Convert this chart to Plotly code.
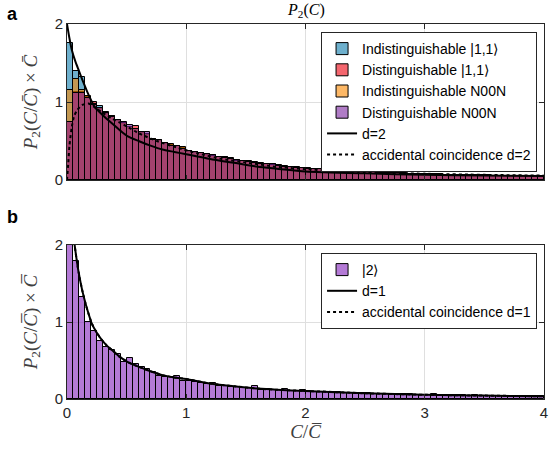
import plotly.graph_objects as go

# ---------------- data ----------------
bin_width = 0.05
n_bins = 80
bin_centers = [round(0.025 + bin_width * i, 4) for i in range(n_bins)]

indist_11 = [1.76, 1.40, 1.32, 1.06, 0.97, 0.95, 0.86, 0.81, 0.76, 0.72, 0.67, 0.65, 0.60, 0.58, 0.52, 0.50, 0.47, 0.45, 0.43, 0.41, 0.37, 0.36,
             0.35, 0.32, 0.32, 0.29, 0.29, 0.27, 0.26, 0.24, 0.23, 0.23, 0.21, 0.20, 0.20, 0.18, 0.17, 0.17, 0.16, 0.15,
             0.145, 0.14, 0.14, 0.13, 0.125, 0.12, 0.12, 0.11, 0.11, 0.104, 0.10, 0.10, 0.094, 0.09, 0.09, 0.085, 0.083, 0.08, 0.08, 0.076,
             0.074, 0.072, 0.071, 0.068, 0.066, 0.065, 0.063, 0.061, 0.06, 0.058, 0.058, 0.056, 0.055, 0.054, 0.053, 0.051, 0.05, 0.049, 0.048, 0.047]
dist_11 = [0.75, 1.13, 1.13, 1.06, 1.00, 0.91, 0.85, 0.82, 0.76, 0.73, 0.68, 0.69, 0.60, 0.58, 0.53, 0.50, 0.46, 0.45, 0.43, 0.41, 0.36, 0.35,
           0.35, 0.32, 0.31, 0.29, 0.29, 0.27, 0.25, 0.24, 0.24, 0.22, 0.21, 0.21, 0.19, 0.18, 0.18, 0.165, 0.16, 0.155,
           0.145, 0.145, 0.135, 0.13, 0.125, 0.125, 0.115, 0.11, 0.11, 0.104, 0.10, 0.097, 0.094, 0.092, 0.088, 0.085, 0.085, 0.08, 0.078, 0.076,
           0.074, 0.073, 0.07, 0.068, 0.067, 0.064, 0.063, 0.062, 0.06, 0.058, 0.057, 0.057, 0.055, 0.054, 0.052, 0.051, 0.051, 0.049, 0.048, 0.048]
indist_noon = [1.16, 1.30, 1.15, 1.08, 0.97, 0.92, 0.87, 0.82, 0.77, 0.73, 0.68, 0.66, 0.62, 0.59, 0.52, 0.51, 0.47, 0.46, 0.44, 0.42, 0.37, 0.355,
               0.34, 0.33, 0.31, 0.30, 0.28, 0.28, 0.25, 0.25, 0.23, 0.22, 0.22, 0.20, 0.19, 0.19, 0.17, 0.165, 0.17, 0.15,
               0.15, 0.14, 0.135, 0.13, 0.13, 0.12, 0.115, 0.11, 0.108, 0.105, 0.10, 0.097, 0.095, 0.091, 0.088, 0.087, 0.083, 0.08, 0.078, 0.077,
               0.075, 0.072, 0.07, 0.069, 0.066, 0.064, 0.064, 0.061, 0.06, 0.059, 0.057, 0.056, 0.056, 0.054, 0.052, 0.052, 0.05, 0.049, 0.049, 0.047]
dist_noon = [0.74, 1.12, 1.12, 1.05, 0.96, 0.92, 0.86, 0.81, 0.77, 0.74, 0.71, 0.65, 0.61, 0.62, 0.51, 0.51, 0.47, 0.44, 0.44, 0.40, 0.37, 0.355,
             0.34, 0.33, 0.32, 0.29, 0.28, 0.27, 0.26, 0.24, 0.23, 0.22, 0.21, 0.20, 0.20, 0.18, 0.17, 0.17, 0.16, 0.15,
             0.145, 0.14, 0.135, 0.135, 0.125, 0.12, 0.115, 0.113, 0.108, 0.104, 0.102, 0.097, 0.094, 0.091, 0.09, 0.085, 0.083, 0.082, 0.078, 0.076,
             0.074, 0.072, 0.07, 0.068, 0.066, 0.065, 0.063, 0.061, 0.061, 0.058, 0.057, 0.056, 0.055, 0.055, 0.052, 0.051, 0.05, 0.05, 0.048, 0.047]

d2_x = [0.0, 0.02, 0.04, 0.07, 0.10, 0.135, 0.17, 0.20, 0.235, 0.30, 0.374, 0.45, 0.51, 0.60, 0.70, 0.80, 0.90, 1.0, 1.2, 1.4, 1.6, 1.76, 2.0, 2.5, 3.0, 3.5, 4.0]
d2_y = [2.0, 1.82, 1.67, 1.52, 1.40, 1.26, 1.13, 1.03, 0.93, 0.83, 0.73, 0.63, 0.56, 0.50, 0.44, 0.39, 0.36, 0.33, 0.27, 0.22, 0.17, 0.145, 0.11, 0.085, 0.066, 0.057, 0.05]
acc2_x = [0.0, 0.01, 0.02, 0.04, 0.06, 0.083, 0.125, 0.18, 0.235, 0.30, 0.374, 0.45, 0.51, 0.60, 0.77, 0.98, 1.1, 1.3, 1.52, 1.75, 2.02, 2.5, 3.0, 3.5, 4.0]
acc2_y = [0.0, 0.2, 0.43, 0.68, 0.82, 0.89, 0.96, 0.98, 0.93, 0.86, 0.79, 0.73, 0.68, 0.60, 0.49, 0.39, 0.34, 0.27, 0.22, 0.17, 0.137, 0.10, 0.08, 0.066, 0.056]

state_2 = [2.30, 1.79, 1.32, 1.00, 0.88, 0.75, 0.68, 0.64, 0.59, 0.48, 0.53, 0.46, 0.42, 0.39, 0.355, 0.30, 0.29, 0.29, 0.30, 0.24,
           0.24, 0.22, 0.21, 0.19, 0.21, 0.17, 0.165, 0.16, 0.15, 0.145, 0.14, 0.17, 0.12, 0.125, 0.115, 0.12, 0.13, 0.11, 0.105, 0.12,
           0.10, 0.095, 0.093, 0.09, 0.088, 0.085, 0.082, 0.08, 0.078, 0.075, 0.073, 0.07, 0.068, 0.066, 0.064, 0.062, 0.06, 0.062, 0.058, 0.056,
           0.055, 0.06, 0.053, 0.05, 0.049, 0.048, 0.046, 0.045, 0.05, 0.043, 0.042, 0.04, 0.04, 0.039, 0.038, 0.037, 0.036, 0.035, 0.035, 0.034]
d1_x = [0.04, 0.064, 0.08, 0.097, 0.125, 0.152, 0.18, 0.208, 0.25, 0.29, 0.33, 0.374, 0.44, 0.51, 0.60, 0.70, 0.80, 0.90, 1.0, 1.2, 1.4, 1.6, 1.76, 2.0, 2.5, 3.0, 3.5, 4.0]
d1_y = [2.35, 2.0, 1.82, 1.65, 1.43, 1.26, 1.11, 0.98, 0.86, 0.77, 0.70, 0.64, 0.55, 0.48, 0.42, 0.36, 0.31, 0.28, 0.26, 0.20, 0.165, 0.135, 0.12, 0.105, 0.075, 0.055, 0.044, 0.035]
acc1_x = [0.04, 0.064, 0.08, 0.097, 0.125, 0.152, 0.18, 0.208, 0.25, 0.29, 0.33, 0.374, 0.44, 0.51, 0.60, 0.70, 0.80, 0.90, 1.0, 1.2, 1.4, 1.6, 1.76, 2.0, 2.5, 3.0, 3.5, 4.0]
acc1_y = [2.35, 2.0, 1.82, 1.65, 1.43, 1.26, 1.11, 0.98, 0.86, 0.77, 0.70, 0.64, 0.55, 0.48, 0.42, 0.36, 0.31, 0.28, 0.26, 0.20, 0.165, 0.135, 0.12, 0.105, 0.075, 0.055, 0.044, 0.035]

x_ticks = [0, 1, 2, 3, 4]
y_ticks = [0, 1, 2]

# ---------------- figure ----------------
W, H = 552, 457
ML, MR, MT, MB = 67, 4, 24, 58
axis_col = "#262626"
sans = "Liberation Sans, Arial, sans-serif"
serif = "Liberation Serif, Times New Roman, serif"

fig = go.Figure()

hist_top = [
    ("Indistinguishable |1,1⟩", indist_11, "rgba(13,123,172,0.6)"),
    ("Distinguishable |1,1⟩", dist_11, "rgba(237,0,13,0.6)"),
    ("Indistinguishable N00N", indist_noon, "rgba(252,137,0,0.6)"),
    ("Distinguishable N00N", dist_noon, "rgba(123,37,160,0.6)"),
]
for name, vals, col in hist_top:
    fig.add_trace(go.Bar(x=bin_centers, y=vals, width=bin_width, name=name,
                         marker=dict(color=col, line=dict(color="black", width=1)),
                         xaxis="x", yaxis="y", legend="legend"))
fig.add_trace(go.Scatter(x=d2_x, y=d2_y, mode="lines", name="d=2",
                         line=dict(color="black", width=2, shape="spline", smoothing=0.6),
                         xaxis="x", yaxis="y", legend="legend"))
fig.add_trace(go.Scatter(x=acc2_x, y=acc2_y, mode="lines", name="accidental coincidence d=2",
                         line=dict(color="black", width=2, dash="dot", shape="spline", smoothing=0.6),
                         xaxis="x", yaxis="y", legend="legend"))

fig.add_trace(go.Bar(x=bin_centers, y=state_2, width=bin_width, name="|2⟩",
                     marker=dict(color="rgba(130,33,187,0.6)", line=dict(color="black", width=1)),
                     xaxis="x2", yaxis="y2", legend="legend2"))
fig.add_trace(go.Scatter(x=d1_x, y=d1_y, mode="lines", name="d=1",
                         line=dict(color="black", width=2, shape="spline", smoothing=0.6),
                         xaxis="x2", yaxis="y2", legend="legend2"))
fig.add_trace(go.Scatter(x=acc1_x, y=acc1_y, mode="lines", name="accidental coincidence d=1",
                         line=dict(color="black", width=2, dash="dot", shape="spline", smoothing=0.6),
                         xaxis="x2", yaxis="y2", legend="legend2"))

plot_h = H - MT - MB
top_dom = [(399 - 180) / plot_h, 1.0]
bot_dom = [0.0, (399 - 245) / plot_h]

common_x = dict(range=[0, 4], tickvals=x_ticks, showgrid=True, gridcolor="#dfdfdf", gridwidth=1,
                zeroline=False, showline=True, linecolor=axis_col, linewidth=1, mirror="ticks",
                ticks="inside", ticklen=5, tickcolor=axis_col, ticklabeloverflow="allow",
                tickfont=dict(family=sans, size=15, color=axis_col))
common_y = dict(range=[0, 2], tickvals=y_ticks, showgrid=True, gridcolor="#dfdfdf", gridwidth=1,
                zeroline=False, showline=True, linecolor=axis_col, linewidth=1, mirror="ticks",
                ticks="inside", ticklen=5, tickcolor=axis_col,
                tickfont=dict(family=sans, size=15, color=axis_col))

ylab_top = "<i>P</i><sub>2</sub>(<i>C</i>/<i>C\u0304</i>) × <i>C\u0304</i>"
ylab_bot = "<i>P</i><sub>2</sub>(<i>C</i>/<i>C\u0305</i>) × <i>C\u0305</i>"

leg_common = dict(xanchor="right", yanchor="top", bgcolor="white", bordercolor="#262626", borderwidth=1,
                  font=dict(family=sans, size=14, color="black"), tracegroupgap=0, itemwidth=30)

fig.update_layout(
    width=W, height=H,
    margin=dict(l=ML, r=MR, t=MT, b=MB, pad=0),
    paper_bgcolor="white", plot_bgcolor="white",
    barmode="overlay", bargap=0,
    xaxis=dict(domain=[0, 1], anchor="y", showticklabels=False, **common_x),
    yaxis=dict(domain=top_dom, anchor="x",
               title=dict(text=ylab_top, font=dict(family=serif, size=19, color="#404040"), standoff=12),
               **common_y),
    xaxis2=dict(domain=[0, 1], anchor="y2",
                title=dict(text="<i>C</i>/<i>C\u0305</i>", font=dict(family=serif, size=19, color="#404040"), standoff=4),
                **common_x),
    yaxis2=dict(domain=bot_dom, anchor="x2",
                title=dict(text=ylab_bot, font=dict(family=serif, size=19, color="#404040"), standoff=12),
                **common_y),
    legend=dict(x=(541 - ML) / (W - ML - MR), y=(399 - 32) / plot_h, **leg_common),
    legend2=dict(x=(541 - ML) / (W - ML - MR), y=(399 - 253) / plot_h, **leg_common),
    showlegend=True,
)

fig.add_annotation(text="<i>P</i><sub>2</sub>(<i>C</i>)", xref="paper", yref="paper",
                   x=0.5, y=1.0, yshift=2, xanchor="center", yanchor="bottom", showarrow=False,
                   font=dict(family=serif, size=16, color="black"))
fig.add_annotation(text="<b>a</b>", xref="paper", yref="paper", x=-ML / (W - ML - MR) + 0.01,
                   y=(399 - 2) / plot_h, xanchor="left", yanchor="top", showarrow=False,
                   font=dict(family=sans, size=18, color="black"))
fig.add_annotation(text="<b>b</b>", xref="paper", yref="paper", x=-ML / (W - ML - MR) + 0.01,
                   y=(399 - 205) / plot_h, xanchor="left", yanchor="top", showarrow=False,
                   font=dict(family=sans, size=18, color="black"))

fig.write_html("out.html")
